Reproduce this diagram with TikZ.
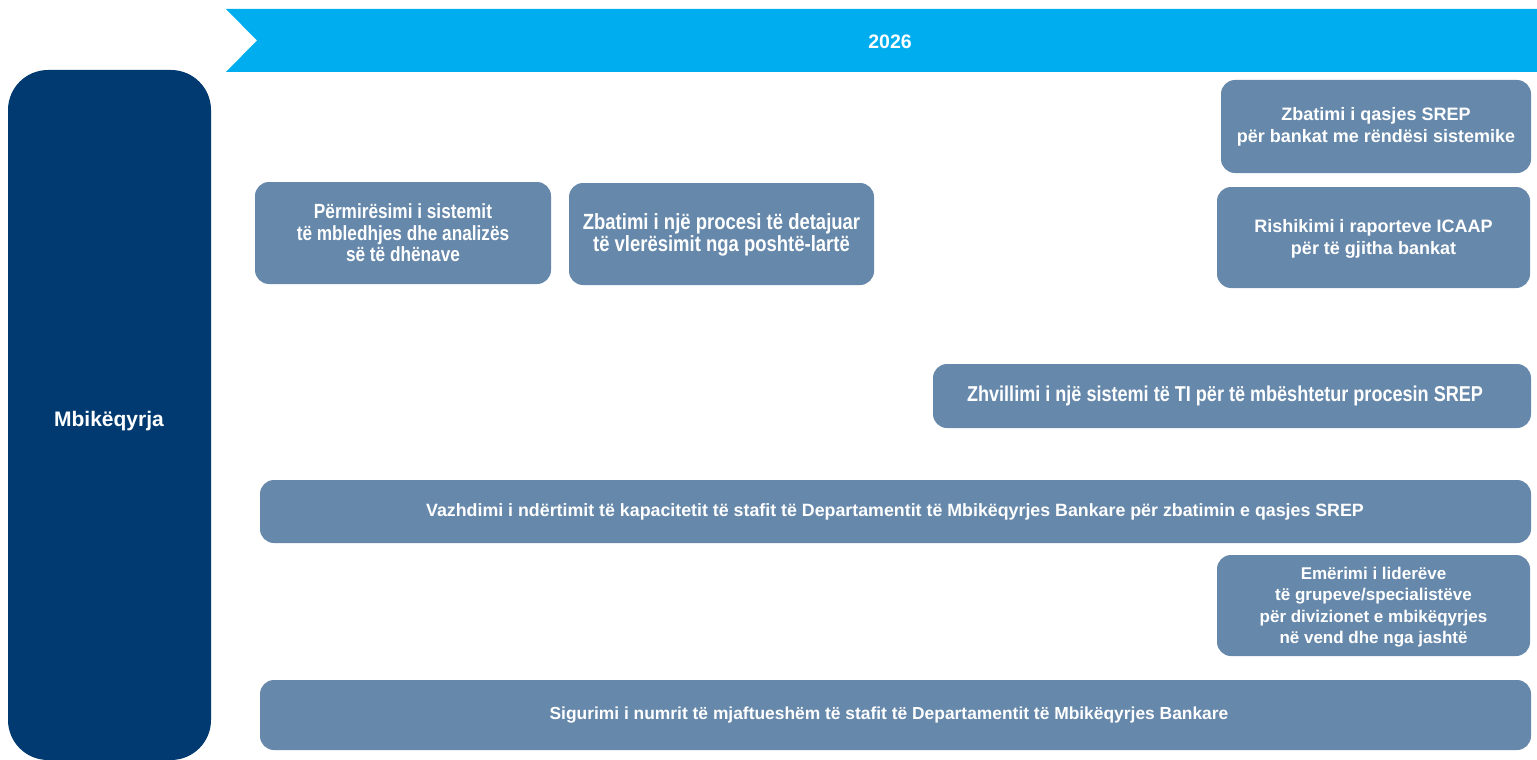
\documentclass[tikz,border=0pt]{standalone}
\usepackage{fontspec}
\setmainfont{Liberation Sans}
\newfontfamily\narrowfont[FakeStretch=0.84]{Liberation Sans}
\definecolor{navy}{HTML}{003A70}
\definecolor{steel}{HTML}{6688AB}
\definecolor{sky}{HTML}{00AEEF}
\begin{document}
\begin{tikzpicture}[x=1pt,y=-1pt,
  task/.style={fill=steel, rounded corners=14pt, draw=none},
  tasktext/.style={text=white, align=center, inner sep=0pt},
  narrowtxt/.style={tasktext, font=\narrowfont\bfseries\fontsize{#1}{21.5}\selectfont},
  widetxt/.style={tasktext, font=\bfseries\fontsize{#1}{21.5}\selectfont}]
\useasboundingbox (0,0) rectangle (1537,760);
% banner
\fill[sky] (226,9) -- (1537,9) -- (1537,72) -- (226,72) -- (257,40.5) -- cycle;
\node[text=white, font=\bfseries\fontsize{19.5}{22}\selectfont] (year) at (890,42) {2026};
% left category
\fill[navy, rounded corners=40pt] (8,70) rectangle (211,760);
\node[text=white, font=\bfseries\fontsize{21}{24}\selectfont] (cat) at (109,421) {Mbikëqyrja};
% tasks
\fill[task] (255,182) rectangle (551,284);
\node[narrowtxt=20.5] (t1) at (403,233) {Përmirësimi i sistemit\\të mbledhjes dhe analizës\\së të dhënave};
\fill[task] (569,183) rectangle (874,285);
\node[narrowtxt=22] (t2) at (721.5,235) {Zbatimi i një procesi të detajuar\\të vlerësimit nga poshtë-lartë};
\fill[task] (1221,80) rectangle (1531,173);
\node[widetxt=18] (t3) at (1376,127) {Zbatimi i qasjes  SREP\\për bankat me rëndësi sistemike};
\fill[task] (1217,187) rectangle (1530,288);
\node[widetxt=18] (t4) at (1373.5,239) {Rishikimi  i raporteve ICAAP\\për të gjitha bankat};
\fill[task] (933,364) rectangle (1531,428);
\node[narrowtxt=21.5] (t5) at (1225,396) {Zhvillimi i një sistemi të TI për të mbështetur procesin  SREP};
\fill[task] (260,480) rectangle (1531,543);
\node[widetxt=17.8] (t6) at (895,511.5) {Vazhdimi i ndërtimit të kapacitetit të stafit  të Departamentit të Mbikëqyrjes Bankare për zbatimin e qasjes SREP};
\fill[task] (1217,555) rectangle (1530,656);
\node[widetxt=17] (t7) at (1373.5,607) {Emërimi i liderëve\\të grupeve/specialistëve\\për divizionet e mbikëqyrjes\\në vend dhe nga jashtë};
\fill[task] (260,680) rectangle (1531,750);
\node[widetxt=17.4] (t8) at (889,715) {Sigurimi i numrit të mjaftueshëm të stafit të Departamentit të Mbikëqyrjes Bankare};
\end{tikzpicture}
\end{document}
